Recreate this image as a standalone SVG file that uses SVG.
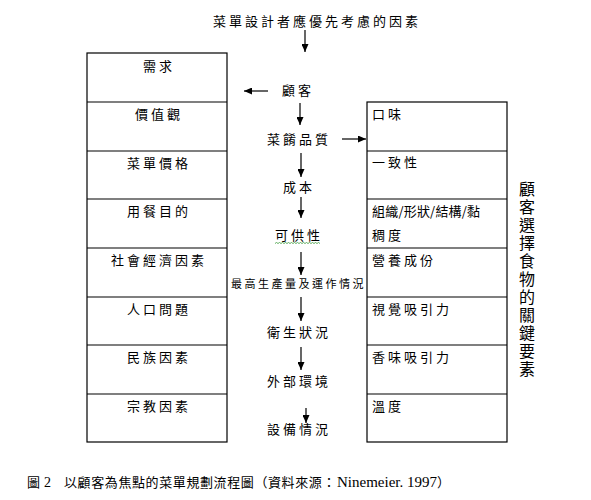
<svg xmlns="http://www.w3.org/2000/svg" width="591" height="500" viewBox="0 0 591 500">
<defs>
<style>
text{font-family:"Noto Sans CJK TC","Liberation Serif",serif;fill:#000;}
.t{font-size:13px;letter-spacing:3px;}
.s{font-size:11px;letter-spacing:2.5px;}
.c{text-anchor:middle;}
.box{fill:#fff;stroke:#000;stroke-width:1.2;}
.ln{stroke:#000;stroke-width:1.2;fill:none;}
.ar{stroke:#000;stroke-width:1.2;fill:none;marker-end:url(#ah);}
.v{font-size:16px;writing-mode:vertical-rl;letter-spacing:2px;}
.lat{font-family:"Liberation Serif",serif;}
</style>
<marker id="ah" viewBox="0 0 8 7" refX="8" refY="3.5" markerWidth="8" markerHeight="7" markerUnits="userSpaceOnUse" orient="auto">
<path d="M0,0 L8,3.5 L0,7 z" fill="#000"/>
</marker>
</defs>
<rect width="591" height="500" fill="#fff"/>

<g id="title"><text class="t" x="213" y="26">菜單設計者應優先考慮的因素</text></g>

<g id="left-factors">
<rect class="box" x="87" y="53" width="140" height="389"/>
<path class="ln" d="M87,102H227M87,151H227M87,199H227M87,248H227M87,297H227M87,345H227M87,394H227"/>
<text class="t c" x="159" y="71">需求</text>
<text class="t c" x="159" y="119">價值觀</text>
<text class="t c" x="159" y="168">菜單價格</text>
<text class="t c" x="159" y="216">用餐目的</text>
<text class="t c" x="159" y="265">社會經濟因素</text>
<text class="t c" x="159" y="314">人口問題</text>
<text class="t c" x="159" y="362">民族因素</text>
<text class="t c" x="159" y="411">宗教因素</text>
</g>

<g id="right-factors">
<rect class="box" x="367" y="102" width="140" height="340"/>
<path class="ln" d="M367,151H507M367,199H507M367,248H507M367,297H507M367,345H507M367,394H507"/>
<text class="t" x="372" y="119">口味</text>
<text class="t" x="372" y="167">一致性</text>
<text x="372" y="216" style="font-size:13px;letter-spacing:0.2px">組織/形狀/結構/黏</text>
<text class="t" x="372" y="240">稠度</text>
<text class="t" x="372" y="265">營養成份</text>
<text class="t" x="372" y="314">視覺吸引力</text>
<text class="t" x="372" y="362">香味吸引力</text>
<text class="t" x="372" y="411">溫度</text>
</g>

<g id="right-label">
<text class="v" x="527" y="181">顧客選擇食物的關鍵要素</text>
</g>

<g id="n-customer"><text class="t" x="282" y="95">顧客</text></g>
<g id="n-quality"><text class="t" x="267" y="144">菜餚品質</text></g>
<g id="n-cost"><text class="t" x="283" y="192">成本</text></g>
<g id="n-availability"><text class="t" x="275" y="240">可供性</text>
<path d="M275,243.5 l1.5,-1 l1.5,1 l1.5,-1 l1.5,1 l1.5,-1 l1.5,1 l1.5,-1 l1.5,1 l1.5,-1 l1.5,1 l1.5,-1 l1.5,1 l1.5,-1 l1.5,1 l1.5,-1 l1.5,1 l1.5,-1 l1.5,1 l1.5,-1 l1.5,1 l1.5,-1 l1.5,1 l1.5,-1 l1.5,1 l1.5,-1 l1.5,1 l1.5,-1 l1.5,1 l1.5,-1 l1.5,1" fill="none" stroke="#3a9a3a" stroke-width="0.8"/></g>
<g id="n-production"><text class="s" x="231" y="288">最高生產量及運作情況</text></g>
<g id="n-hygiene"><text class="t" x="267" y="337">衛生狀況</text></g>
<g id="n-environment"><text class="t" x="267" y="386">外部環境</text></g>
<g id="n-equipment"><text class="t" x="267" y="434">設備情況</text></g>

<g id="connectors">
<path class="ar" d="M305,30V52"/>
<path class="ar" d="M268,91H244"/>
<path class="ar" d="M300,103V125"/>
<path class="ar" d="M342,139H366"/>
<path class="ar" d="M301,153V177"/>
<path class="ar" d="M301,197V218"/>
<path class="ar" d="M301,252V275"/>
<path class="ar" d="M301,297V321"/>
<path class="ar" d="M301,347V370"/>
<path class="ar" d="M306,408V423"/>
</g>

<g id="caption">
<text x="27" y="487" style="font-size:13px">圖</text>
<text class="lat" x="44" y="487" style="font-size:14px">2</text>
<text x="64" y="487" style="font-size:13px;letter-spacing:0.6px">以顧客為焦點的菜單規劃流程圖（資料來源：</text>
<text x="337" y="487" style="font-size:15px"><tspan class="lat">Ninemeier. 1997</tspan><tspan style="font-size:13px">）</tspan></text>
</g>
</svg>
